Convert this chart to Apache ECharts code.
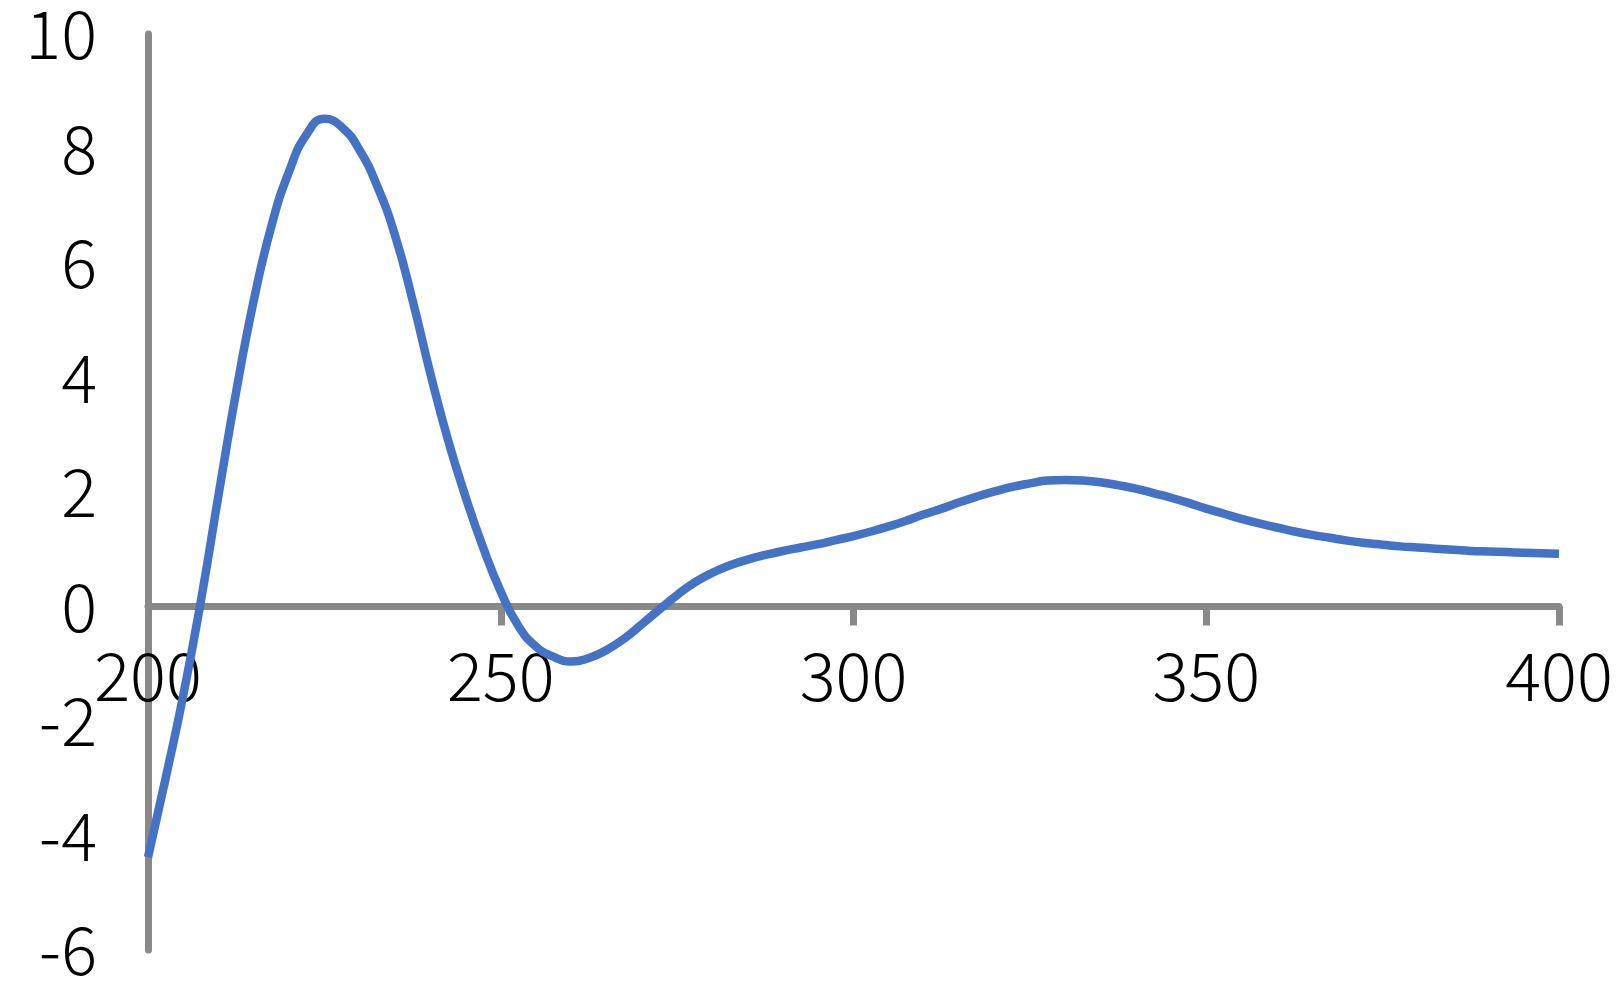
<!DOCTYPE html>
<html>
<head>
<meta charset="utf-8">
<script src="https://cdn.jsdelivr.net/npm/echarts@6/dist/echarts.min.js"></script>
<style>
html,body{margin:0;padding:0;background:#fff;}
#chart{width:1622px;height:1001px;}
</style>
</head>
<body>
<div id="chart"></div>
<script>
var xValues = [200,202.5,205,207.5,210,212.5,215,217.5,220,222.5,225,227.5,230,232.5,235,237.5,240,242.5,245,247.5,250,252.5,255,257.5,260,262.5,265,267.5,270,272.5,275,277.5,280,282.5,285,287.5,290,292.5,295,297.5,300,302.5,305,307.5,310,312.5,315,317.5,320,322.5,325,327.5,330,332.5,335,337.5,340,342.5,345,347.5,350,352.5,355,357.5,360,362.5,365,367.5,370,372.5,375,377.5,380,382.5,385,387.5,390,392.5,395,397.5,400];
var yValues = [-4.38,-3.0,-1.55,0.1,1.95,3.75,5.35,6.65,7.6,8.25,8.52,8.37,7.97,7.34,6.49,5.35,4.08,2.92,1.92,1.03,0.26,-0.34,-0.7,-0.88,-0.96,-0.9,-0.76,-0.56,-0.31,-0.05,0.2,0.42,0.59,0.72,0.82,0.9,0.97,1.03,1.09,1.16,1.23,1.31,1.4,1.5,1.61,1.71,1.82,1.92,2.01,2.09,2.15,2.2,2.21,2.2,2.17,2.12,2.06,1.98,1.9,1.81,1.71,1.62,1.53,1.45,1.38,1.31,1.25,1.2,1.15,1.11,1.08,1.05,1.03,1.01,0.99,0.97,0.96,0.95,0.94,0.93,0.92];
var xTicks = [200,250,300,350,400];
var yTicks = [-6,-4,-2,0,2,4,6,8,10];

var data = xValues.map(function(x,i){return [x,yValues[i]];});
var fontFam = '"Noto Sans CJK SC","Noto Sans",sans-serif';
var axisColor = '#898989';
var gridTop = 34, gridBottom = 51, H = 1001;
var gridH = H - gridTop - gridBottom;
var yMin = yTicks[0], yMax = yTicks[yTicks.length-1];
var zeroOffset = -gridH * (0 - yMin) / (yMax - yMin);

var chart = echarts.init(document.getElementById('chart'));
chart.setOption({
  animation:false,
  backgroundColor:'#ffffff',
  grid:{left:148,right:63,top:gridTop,bottom:gridBottom,containLabel:false,outerBoundsMode:'none'},
  xAxis:{
    type:'value',
    min:xTicks[0], max:xTicks[xTicks.length-1], interval:50,
    offset:zeroOffset,
    axisLine:{show:true,onZero:false,lineStyle:{color:axisColor,width:7}},
    axisTick:{show:true,length:19,lineStyle:{color:axisColor,width:7}},
    axisLabel:{color:'#000',fontFamily:fontFam,fontWeight:300,fontSize:67,margin:36},
    splitLine:{show:false}
  },
  yAxis:{
    type:'value',
    min:yMin, max:yMax, interval:2,
    axisLine:{show:true,onZero:false,lineStyle:{color:axisColor,width:7}},
    axisTick:{show:false},
    axisLabel:{color:'#000',fontFamily:fontFam,fontWeight:300,fontSize:67,margin:51},
    splitLine:{show:false}
  },
  series:[{
    type:'line',
    data:data,
    smooth:0.5,
    showSymbol:false,
    clip:false,
    lineStyle:{color:'#4472C4',width:8.5}
  }]
});
</script>
</body>
</html>
